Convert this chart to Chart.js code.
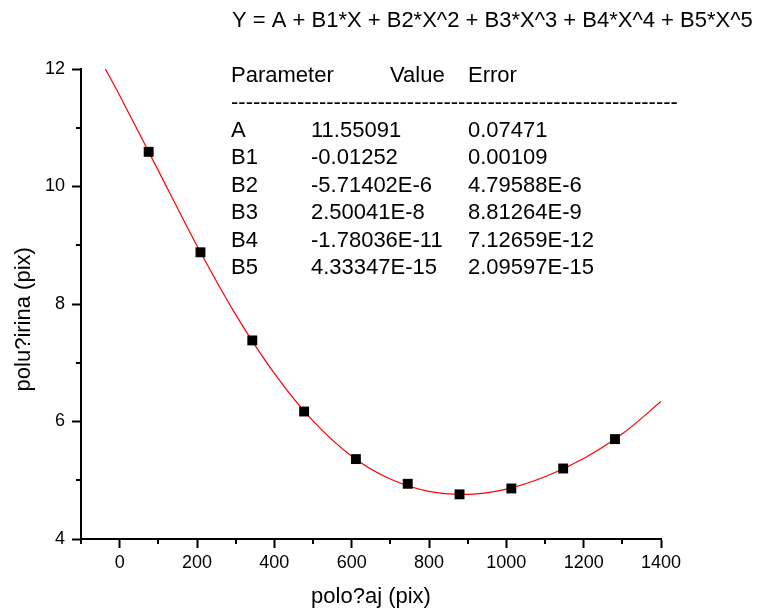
<!DOCTYPE html>
<html>
<head>
<meta charset="utf-8">
<script src="https://cdn.jsdelivr.net/npm/chart.js@4/dist/chart.umd.min.js"></script>
<style>
  html, body { margin: 0; padding: 0; background: #fff; }
  #wrap { width: 762px; height: 612px; }
</style>
</head>
<body>
<div id="wrap"><canvas id="chart" width="762" height="612"></canvas></div>
<script>
// measured points
const pointX = [75, 209, 343, 477, 611, 745, 879, 1013, 1147, 1281];
const pointY = [10.59, 8.88, 7.38, 6.17, 5.36, 4.94, 4.76, 4.86, 5.20, 5.70];

// fitted curve
const fitX = [-37, 0, 100, 200, 300, 400, 500, 600, 700, 800, 900, 1000, 1100, 1200, 1300, 1400];
const fitY = [12.0, 11.55, 10.27, 8.99, 7.82, 6.82, 6.01, 5.41, 5.02, 4.81, 4.76, 4.85, 5.06, 5.37, 5.79, 6.34];

const formula = "Y = A + B1*X + B2*X^2 + B3*X^3 + B4*X^4 + B5*X^5";
const tableHead = ["Parameter", "Value", "Error"];
const paramNames = ["A", "B1", "B2", "B3", "B4", "B5"];
const paramValues = ["11.55091", "-0.01252", "-5.71402E-6", "2.50041E-8", "-1.78036E-11", "4.33347E-15"];
const paramErrors = ["0.07471", "0.00109", "4.79588E-6", "8.81264E-9", "7.12659E-12", "2.09597E-15"];

const FONT = "'Liberation Sans', Arial, sans-serif";

const isMajorX = v => v % 200 === 0;
const isMajorY = v => v % 2 === 0;

// short outward ticks for the unlabelled values (the long ones come from the grid)
const minorTicks = {
    id: "minorTicks",
    afterDraw(chart) {
        const ctx = chart.ctx;
        const xs = chart.scales.x, ys = chart.scales.y;
        const area = chart.chartArea;
        ctx.save();
        ctx.fillStyle = "#000";
        xs.ticks.forEach(t => {
            if (isMajorX(t.value)) return;
            const px = Math.round(xs.getPixelForValue(t.value));
            ctx.fillRect(px - 1, area.bottom, 2, 5);
        });
        ys.ticks.forEach(t => {
            if (isMajorY(t.value)) return;
            const py = Math.round(ys.getPixelForValue(t.value));
            ctx.fillRect(area.left - 5, py - 1, 5, 2);
        });
        ctx.restore();
    }
};

const fitTable = {
    id: "fitTable",
    afterDraw(chart) {
        const ctx = chart.ctx;
        ctx.save();
        ctx.fillStyle = "#000";
        ctx.font = "22px " + FONT;
        ctx.textBaseline = "middle";
        ctx.textAlign = "left";
        ctx.fillText(formula, 232, 21);
        ctx.fillText(tableHead[0], 231, 76);
        ctx.fillText(tableHead[1], 390, 76);
        ctx.fillText(tableHead[2], 468, 76);
        ctx.fillText("-".repeat(61), 231, 103);
        for (let i = 0; i < paramNames.length; i++) {
            const y = 131 + i * 27.4;
            ctx.fillText(paramNames[i], 231, y);
            ctx.fillText(paramValues[i], 311, y);
            ctx.fillText(paramErrors[i], 468, y);
        }
        ctx.restore();
    }
};

new Chart("chart", {
    type: "scatter",
    data: {
        datasets: [
            {
                label: "data",
                data: pointX.map((x, i) => ({ x: x, y: pointY[i] })),
                pointStyle: "rect",
                pointRadius: 7,
                pointBackgroundColor: "#000",
                pointBorderColor: "#000",
                pointBorderWidth: 0,
                order: 0,
            },
            {
                label: "fit",
                type: "line",
                data: fitX.map((x, i) => ({ x: x, y: fitY[i] })),
                borderColor: "#ff0000",
                borderWidth: 1.2,
                pointRadius: 0,
                tension: 0.3,
                fill: false,
                order: 1,
            }
        ]
    },
    options: {
        responsive: false,
        animation: false,
        layout: { padding: { left: 0, top: 69, right: 101, bottom: 0 } },
        plugins: {
            legend: { display: false },
            tooltip: { enabled: false },
        },
        scales: {
            x: {
                type: "linear",
                min: -100,
                max: 1400,
                afterFit: s => { s.height = 73; },
                border: { display: true, color: "#000", width: 2 },
                grid: {
                    display: true,
                    drawOnChartArea: false,
                    drawTicks: true,
                    tickLength: 9,
                    tickWidth: 2,
                    tickColor: c => (isMajorX(c.tick.value) ? "#000" : "rgba(0,0,0,0)"),
                },
                ticks: {
                    stepSize: 100,
                    padding: 4,
                    color: "#000",
                    font: { family: FONT, size: 18 },
                    maxRotation: 0,
                    autoSkip: false,
                    callback: v => (isMajorX(v) ? String(v) : ""),
                },
                title: {
                    display: true,
                    text: "polo?aj (pix)",
                    color: "#000",
                    font: { family: FONT, size: 22 },
                    padding: { top: 0, bottom: 2 },
                },
            },
            y: {
                type: "linear",
                min: 4,
                max: 12,
                afterFit: s => { s.width = 81; },
                border: { display: true, color: "#000", width: 2 },
                grid: {
                    display: true,
                    drawOnChartArea: false,
                    drawTicks: true,
                    tickLength: 9,
                    tickWidth: 2,
                    tickColor: c => (isMajorY(c.tick.value) ? "#000" : "rgba(0,0,0,0)"),
                },
                ticks: {
                    stepSize: 1,
                    padding: 7,
                    color: "#000",
                    font: { family: FONT, size: 18 },
                    autoSkip: false,
                    callback: v => (isMajorY(v) ? String(v) : ""),
                },
                title: {
                    display: true,
                    // trailing spaces push the visible text down to where the reference has it
                    text: "polu?irina (pix)     ",
                    color: "#000",
                    font: { family: FONT, size: 22 },
                    padding: { top: 11, bottom: 0 },
                },
            }
        }
    },
    plugins: [minorTicks, fitTable]
});
</script>
</body>
</html>
